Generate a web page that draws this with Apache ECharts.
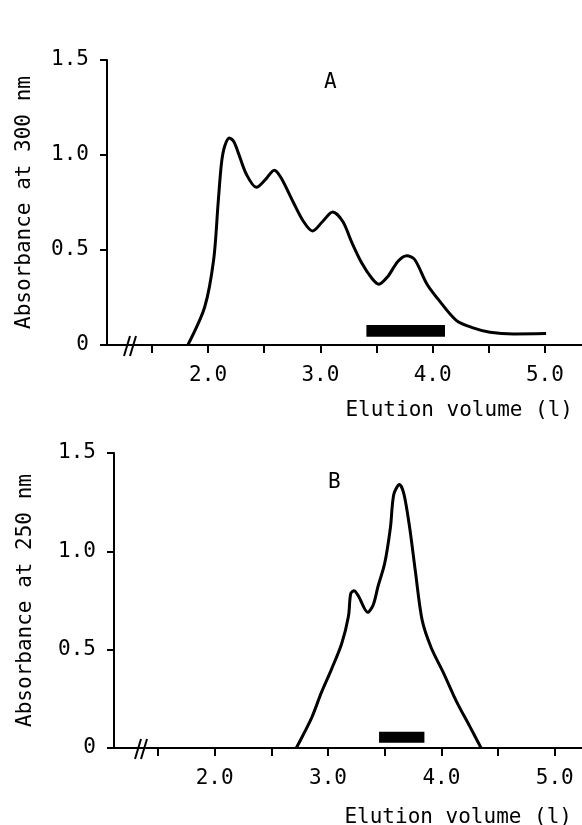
<!DOCTYPE html>
<html>
<head>
<meta charset="utf-8">
<script src="https://cdn.jsdelivr.net/npm/echarts@6/dist/echarts.min.js"></script>
<style>
html,body{margin:0;padding:0;background:#fff;}
#chart{width:582px;height:825px;}
</style>
</head>
<body>
<div id="chart"></div>
<script>
// ---- Data ----
const volumeA = [1.82, 1.97, 2.05, 2.09, 2.12, 2.15, 2.19, 2.23, 2.27, 2.34, 2.43, 2.51, 2.59, 2.65, 2.76, 2.85, 2.93, 3.02, 3.11, 3.20, 3.28, 3.37, 3.46, 3.52, 3.60, 3.69, 3.77, 3.84, 3.95, 4.05, 4.21, 4.36, 4.51, 4.72, 5.01];
const absA   = [0.00, 0.20, 0.45, 0.75, 0.96, 1.05, 1.09, 1.07, 1.01, 0.90, 0.83, 0.87, 0.92, 0.88, 0.75, 0.65, 0.60, 0.65, 0.70, 0.65, 0.54, 0.43, 0.35, 0.32, 0.36, 0.44, 0.47, 0.45, 0.32, 0.24, 0.13, 0.09, 0.067, 0.058, 0.06];
const volumeB = [2.72, 2.78, 2.86, 2.94, 3.03, 3.12, 3.18, 3.20, 3.23, 3.27, 3.35, 3.40, 3.44, 3.50, 3.55, 3.58, 3.63, 3.67, 3.72, 3.77, 3.83, 3.91, 4.02, 4.13, 4.25, 4.35];
const absB   = [0.00, 0.066, 0.16, 0.28, 0.40, 0.53, 0.67, 0.785, 0.80, 0.77, 0.69, 0.73, 0.82, 0.94, 1.12, 1.29, 1.34, 1.29, 1.12, 0.90, 0.65, 0.51, 0.38, 0.24, 0.11, 0.00];
// pooled fraction bars [from, to] in volume, [low, high] in absorbance
const poolA = [3.41, 4.11];
const poolAy = [0.044, 0.105];
const poolB = [3.45, 3.85];
const poolBy = [0.027, 0.083];
// tick values / labels
const xTicks = [1.5, 2.0, 2.5, 3.0, 3.5, 4.0, 4.5, 5.0];
const xLabels = [2.0, 3.0, 4.0, 5.0];
const panelTitles = ['A', 'B'];
const yNames = ['Absorbance at 300 nm', 'Absorbance at 250 nm'];
const xName = 'Elution volume (l)';

const FONT = 'DejaVu Sans Mono';
const FS = 21;

function pairs(xs, ys){ return xs.map((x,i)=>[x, ys[i]]); }

function xAxisCfg(idx, min, max){
  return {
    type:'value', gridIndex: idx, min: min, max: max,
    axisLine:{show:true, lineStyle:{color:'#000', width:2}},
    axisTick:{show:true, customValues: xTicks, length:8, lineStyle:{color:'#000', width:2}},
    axisLabel:{show:true, customValues: xLabels, margin:20, color:'#000', fontFamily:FONT, fontSize:FS,
      formatter: v => v.toFixed(1)},
    splitLine:{show:false}
  };
}
function yAxisCfg(idx, name, gap){
  return {
    type:'value', gridIndex: idx, min:0, max:1.5, interval:0.5,
    name: name, nameLocation:'middle', nameGap: gap,
    nameTextStyle:{color:'#000', fontFamily:FONT, fontSize:FS},
    axisLine:{show:true, lineStyle:{color:'#000', width:2}},
    axisTick:{show:true, length:7, lineStyle:{color:'#000', width:2}},
    axisLabel:{color:'#000', fontFamily:FONT, fontSize:FS, margin:18, padding:[10,0,0,0],
      formatter: v => v === 0 ? '0' : v.toFixed(1)},
    splitLine:{show:false}
  };
}
function curve(idx, xs, ys, bx, by){
  return {
    type:'line', xAxisIndex: idx, yAxisIndex: idx,
    data: pairs(xs, ys), smooth:0.3, showSymbol:false, symbol:'none',
    lineStyle:{color:'#000', width:3}, silent:true,
    markArea:{silent:true, itemStyle:{color:'#000'},
      data:[[{coord:[bx[0], by[0]]},{coord:[bx[1], by[1]]}]]}
  };
}

const chart = echarts.init(document.getElementById('chart'), null, {renderer:'canvas'});
chart.setOption({
  backgroundColor:'#fff',
  animation:false,
  title:[
    {text: panelTitles[0], left:319, top:67, textStyle:{fontFamily:FONT, fontSize:FS, fontWeight:'normal', color:'#000'}},
    {text: panelTitles[1], left:323, top:467, textStyle:{fontFamily:FONT, fontSize:FS, fontWeight:'normal', color:'#000'}},
    {text: xName, right:4, top:395, textStyle:{fontFamily:FONT, fontSize:FS, fontWeight:'normal', color:'#000'}},
    {text: xName, right:5, top:802, textStyle:{fontFamily:FONT, fontSize:FS, fontWeight:'normal', color:'#000'}}
  ],
  grid:[
    {left:107, top:60, width:475, height:285},
    {left:114, top:453, width:468, height:295}
  ],
  xAxis:[ xAxisCfg(0, 1.1, 5.33), xAxisCfg(1, 1.112, 5.24) ],
  yAxis:[ yAxisCfg(0, yNames[0], 72), yAxisCfg(1, yNames[1], 78) ],
  series:[
    curve(0, volumeA, absA, poolA, poolAy),
    curve(1, volumeB, absB, poolB, poolBy)
  ],
  graphic:[
    {type:'line', shape:{x1:124,y1:356,x2:130,y2:336}, style:{stroke:'#000', lineWidth:2}},
    {type:'line', shape:{x1:130,y1:356,x2:136,y2:336}, style:{stroke:'#000', lineWidth:2}},
    {type:'line', shape:{x1:135,y1:759,x2:141,y2:739}, style:{stroke:'#000', lineWidth:2}},
    {type:'line', shape:{x1:141,y1:759,x2:147,y2:739}, style:{stroke:'#000', lineWidth:2}}
  ]
});
</script>
</body>
</html>
